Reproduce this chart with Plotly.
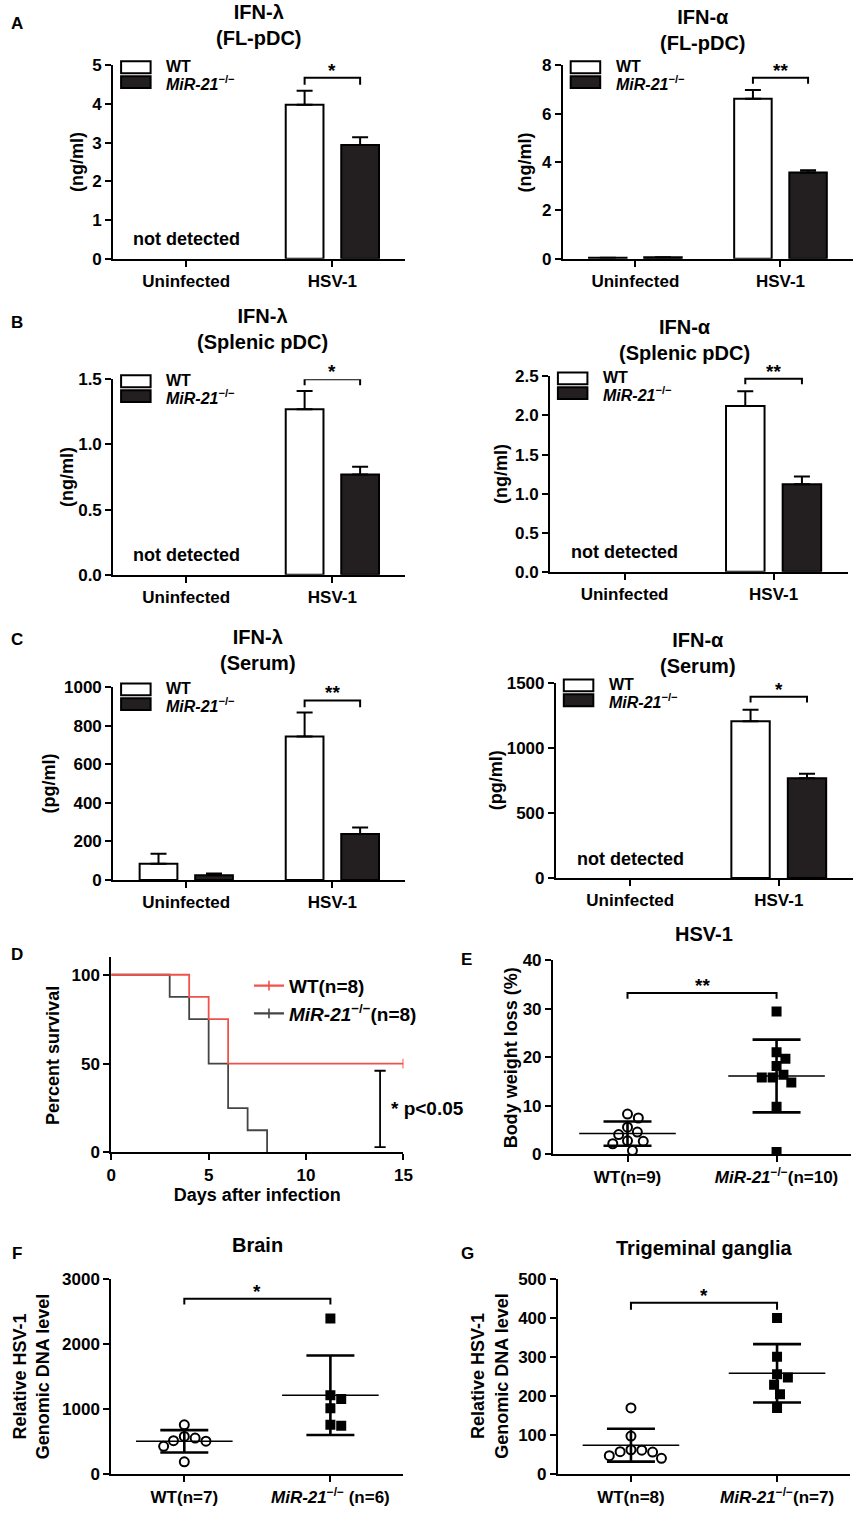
import plotly.graph_objects as go
import numpy as np

W, H = 865, 1516

# ---- data ----
groups = ["Uninfected", "HSV-1"]

# A: FL-pDC (ng/ml), None = not detected
a_lam_wt = [None, 3.98]
a_lam_wt_err = [0, 0.36]
a_lam_ko = [None, 2.94]
a_lam_ko_err = [0, 0.20]
a_alp_wt = [0.04, 6.62]
a_alp_wt_err = [0, 0.36]
a_alp_ko = [0.07, 3.57]
a_alp_ko_err = [0, 0.09]

# B: splenic pDC (ng/ml)
b_lam_wt = [None, 1.27]
b_lam_wt_err = [0, 0.14]
b_lam_ko = [None, 0.77]
b_lam_ko_err = [0, 0.06]
b_alp_wt = [None, 2.12]
b_alp_wt_err = [0, 0.19]
b_alp_ko = [None, 1.12]
b_alp_ko_err = [0, 0.10]

# C: serum (pg/ml)
c_lam_wt = [84, 745]
c_lam_wt_err = [52, 124]
c_lam_ko = [25, 238]
c_lam_ko_err = [8, 35]
c_alp_wt = [None, 1209]
c_alp_wt_err = [0, 88]
c_alp_ko = [None, 768]
c_alp_ko_err = [0, 36]

# D: survival, days of death / censoring
wt_death_days = [4, 5, 6, 6]
wt_censor_days = [15, 15, 15, 15]
ko_death_days = [3, 4, 5, 5, 6, 6, 7, 8]
ko_censor_days = []

# E: body weight loss (%)
e_wt = [8.3, 7.5, 5.6, 4.6, 4.1, 2.7, 2.8, 2.2, 0.8]
e_ko = [29.4, 21.0, 19.7, 18.2, 15.8, 15.8, 16.4, 14.8, 9.8, 0.5]
# F: brain, relative HSV-1 DNA
f_wt = [760, 583, 557, 517, 510, 431, 193]
f_ko = [2392, 1216, 1156, 1014, 745, 760]
# G: trigeminal ganglia
g_wt = [170, 98, 63, 57, 41, 48, 58, 62]
g_ko = [400, 301, 256, 248, 229, 205, 170]

ko_txt = "<i>MiR-21</i><sup>−/−</sup>"
e_labels = ["WT(n=9)", ko_txt + "(n=10)"]
f_labels = ["WT(n=7)", ko_txt + " (n=6)"]
g_labels = ["WT(n=8)", ko_txt + "(n=7)"]

# ---- layout boxes in pixels: left, right, top, bottom ----
box = {
    "A1": (110, 407, 57, 253), "A2": (567, 862, 57, 253),
    "B1": (110, 407, 375, 573), "B2": (554, 857, 372, 570),
    "C1": (110, 407, 687, 882), "C2": (560, 862, 683, 880),
    "D": (108, 405, 960, 1158), "E": (557, 860, 963, 1160),
    "F": (108, 405, 1286, 1484), "G": (562, 859, 1286, 1484),
}
# title centre x and gap above plot top
title_pos = {"A1": (258, 14), "A2": (709, 9), "B1": (262, 25), "B2": (691, 10),
             "C1": (257, 12), "C2": (704, 5), "E": (711, 13), "F": (257, 21), "G": (710, 18)}
names = ["A1", "A2", "B1", "B2", "C1", "C2", "D", "E", "F", "G"]
ax = {n: ("" if i == 0 else str(i + 1)) for i, n in enumerate(names)}

BARGAP = 0.24
GROUPGAP = 0.32
off = (1 - BARGAP) / 4  # centre of each bar from the group tick
FONT = "Liberation Sans, Arial, sans-serif"
TXT = 18

fig = go.Figure()
ann = []
shapes = []


def px_x(x):
    return x / W


def px_y(y):
    return 1 - y / H


def note(x, y, text, size=TXT, xref="paper", yref="paper", **kw):
    d = dict(x=x, y=y, xref=xref, yref=yref, text=text, showarrow=False,
             xanchor="center", yanchor="middle", font=dict(size=size))
    d.update(kw)
    ann.append(d)


axis_style = dict(showline=True, linecolor="black", linewidth=2, ticks="outside", ticklen=6,
                  tickwidth=2, tickcolor="black", showgrid=False, zeroline=False,
                  tickfont=dict(size=17, color="black"))


def bracket(p, x0, x1, ytop, drop, label):
    s = ax[p]
    fig.add_trace(go.Scatter(x=[x0, x0, x1, x1], y=[ytop - drop, ytop, ytop, ytop - drop],
                             mode="lines", line=dict(color="black", width=2),
                             xaxis="x" + s, yaxis="y" + s, showlegend=False, hoverinfo="skip"))
    note((x0 + x1) / 2, ytop, label, size=19, xref="x" + s, yref="y" + s,
         yanchor="bottom", yshift=-5)


def add_title(p, text):
    l, r, t, b = box[p]
    cx, gap = title_pos[p]
    note(px_x(cx), px_y(t - gap), text, size=20, yanchor="bottom")


def bar_panel(p, wt, wt_err, ko, ko_err, ymax, dtick, title, sig, notdet):
    s = ax[p]
    x = [0, 1]
    fig.add_trace(go.Bar(x=x, y=wt, name="WT", marker=dict(color="white", line=dict(color="black", width=2)),
                         error_y=dict(type="data", array=wt_err, arrayminus=[0, 0], symmetric=False,
                                      width=8, thickness=2, color="black"),
                         xaxis="x" + s, yaxis="y" + s, showlegend=False))
    fig.add_trace(go.Bar(x=x, y=ko, name="KO", marker=dict(color="#231f20", line=dict(color="black", width=2)),
                         error_y=dict(type="data", array=ko_err, arrayminus=[0, 0], symmetric=False,
                                      width=8, thickness=2, color="black"),
                         xaxis="x" + s, yaxis="y" + s, showlegend=False))
    ytop, drop, label = sig
    bracket(p, 1 - off, 1 + off, ytop, drop, label)
    if notdet:
        note(0, ymax * 0.1, "not detected", xref="x" + s, yref="y" + s)
    l, r, t, b = box[p]
    fig.layout["xaxis" + s] = dict(domain=[px_x(l), px_x(r)], range=[-0.5, 1.5], tickvals=[0, 1],
                                   ticktext=groups, anchor="y" + s, **axis_style)
    fig.layout["yaxis" + s] = dict(domain=[px_y(b), px_y(t)], range=[0, ymax], dtick=dtick,
                                   anchor="x" + s, **axis_style)
    # legend drawn by hand: wide boxes + labels
    for k, (fill, txt) in enumerate([("white", "WT"), ("#231f20", ko_txt)]):
        y0 = t - 4 + k * 15
        shapes.append(dict(type="rect", xref="paper", yref="paper",
                           x0=px_x(l + 8), x1=px_x(l + 38), y0=px_y(y0 + 12), y1=px_y(y0),
                           fillcolor=fill, line=dict(color="black", width=2)))
        note(px_x(l + 52), px_y(y0 + 5 + 2 * k), txt, size=16, xanchor="left")
    add_title(p, title)


bar_panel("A1", a_lam_wt, a_lam_wt_err, a_lam_ko, a_lam_ko_err, 5, 1,
          "IFN-λ<br>(FL-pDC)", (4.68, 0.18, "*"), True)
bar_panel("A2", a_alp_wt, a_alp_wt_err, a_alp_ko, a_alp_ko_err, 8, 2,
          "IFN-α<br>(FL-pDC)", (7.49, 0.25, "**"), False)
bar_panel("B1", b_lam_wt, b_lam_wt_err, b_lam_ko, b_lam_ko_err, 1.5, 0.5,
          "IFN-λ<br>(Splenic pDC)", (1.5, 0.045, "*"), True)
bar_panel("B2", b_alp_wt, b_alp_wt_err, b_alp_ko, b_alp_ko_err, 2.5, 0.5,
          "IFN-α<br>(Splenic pDC)", (2.47, 0.07, "**"), True)
bar_panel("C1", c_lam_wt, c_lam_wt_err, c_lam_ko, c_lam_ko_err, 1000, 200,
          "IFN-λ<br>(Serum)", (932, 35, "**"), False)
bar_panel("C2", c_alp_wt, c_alp_wt_err, c_alp_ko, c_alp_ko_err, 1500, 500,
          "IFN-α<br>(Serum)", (1398, 45, "*"), True)

fig.layout["yaxis" + ax["B1"]].tickformat = ".1f"
fig.layout["yaxis" + ax["B2"]].tickformat = ".1f"

# ---- D: Kaplan-Meier ----


def km(deaths, censored):
    n = len(deaths) + len(censored)
    at_risk, surv = n, 100.0
    xs, ys = [0], [100.0]
    for t in sorted(set(deaths)):
        d = deaths.count(t)
        surv *= 1 - d / at_risk
        at_risk -= d
        xs.append(t)
        ys.append(surv)
    if censored:
        xs.append(max(censored))
        ys.append(surv)
    return xs, ys


s = ax["D"]
kx, ky = km(ko_death_days, ko_censor_days)
wx, wy = km(wt_death_days, wt_censor_days)
KO_COL, WT_COL = "#454545", "#f0524a"
fig.add_trace(go.Scatter(x=kx, y=ky, mode="lines", line=dict(color=KO_COL, width=1.8, shape="hv"),
                         xaxis="x" + s, yaxis="y" + s, showlegend=False))
fig.add_trace(go.Scatter(x=wx, y=wy, mode="lines", line=dict(color=WT_COL, width=1.8, shape="hv"),
                         xaxis="x" + s, yaxis="y" + s, showlegend=False))
fig.add_trace(go.Scatter(x=[max(wt_censor_days)], y=[wy[-1]], mode="markers",
                         marker=dict(symbol="line-ns-open", size=7, color=WT_COL,
                                     line=dict(color=WT_COL, width=1.8)),
                         xaxis="x" + s, yaxis="y" + s, showlegend=False))
for col, nm in [(WT_COL, "WT(n=8)"), (KO_COL, ko_txt + "(n=8)")]:
    fig.add_trace(go.Scatter(x=[None], y=[None], mode="lines+markers", name=nm,
                             line=dict(color=col, width=2.2),
                             marker=dict(symbol="line-ns-open", size=7, color=col,
                                         line=dict(color=col, width=1.6)),
                             xaxis="x" + s, yaxis="y" + s))
# p-value bar with caps
fig.add_trace(go.Scatter(x=[13.8, 13.8], y=[3, 46], mode="lines+markers",
                         line=dict(color="black", width=1.8),
                         marker=dict(symbol="line-ew-open", size=8, color="black",
                                     line=dict(color="black", width=1.8)),
                         xaxis="x" + s, yaxis="y" + s, showlegend=False, hoverinfo="skip"))
note(14.25, 25, "* p<0.05", size=19, xref="x" + s, yref="y" + s, xanchor="left")
l, r, t, b = box["D"]
fig.layout["xaxis" + s] = dict(domain=[px_x(l), px_x(r)], range=[0, 15], dtick=5, anchor="y" + s,
                               title=dict(text="Days after infection", font=dict(size=18), standoff=0),
                               **axis_style)
fig.layout["yaxis" + s] = dict(domain=[px_y(b), px_y(t)], range=[0, 110], tickvals=[0, 50, 100],
                               anchor="x" + s, **axis_style)

# ---- E, F, G: scatter dot plots with mean +/- SD ----


def swarm(vals, ppu_y, ppu_x, d=11):
    placed = []
    offs = [0.0] * len(vals)
    cands = [0] + [c for k in range(1, 40) for c in (k, -k)]
    for i in sorted(range(len(vals)), key=lambda j: -vals[j]):
        y = vals[i] * ppu_y
        for c in cands:
            if all((c - px) ** 2 + (y - py) ** 2 >= d * d for px, py in placed):
                placed.append((c, y))
                offs[i] = c / ppu_x
                break
    return offs


def dot_panel(p, wt, ko, ymax, dtick, labels, title, sig):
    s = ax[p]
    l, r, t, b = box[p]
    ppu_y = (b - t) / ymax
    ppu_x = (r - l) / 2.0
    for gi, (vals, sym, sz) in enumerate([(wt, "circle-open", 9), (ko, "square", 8)]):
        xo = swarm(vals, ppu_y, ppu_x)
        fig.add_trace(go.Scatter(x=[gi + o for o in xo], y=vals, mode="markers",
                                 marker=dict(symbol=sym, size=sz, color="black",
                                             line=dict(color="black", width=2)),
                                 xaxis="x" + s, yaxis="y" + s, showlegend=False))
        m, sd = float(np.mean(vals)), float(np.std(vals, ddof=1))
        fig.add_trace(go.Scatter(x=[gi], y=[m], mode="markers",
                                 marker=dict(symbol="line-ew", size=69, color="black",
                                             line=dict(color="black", width=1.5)),
                                 error_y=dict(type="data", array=[sd], width=24, thickness=2.6, color="black"),
                                 xaxis="x" + s, yaxis="y" + s, showlegend=False))
    ytop, drop, label = sig
    bracket(p, 0, 1, ytop, drop, label)
    fig.layout["xaxis" + s] = dict(domain=[px_x(l), px_x(r)], range=[-0.5, 1.5], tickvals=[0, 1],
                                   ticktext=labels, anchor="y" + s, **axis_style)
    fig.layout["yaxis" + s] = dict(domain=[px_y(b), px_y(t)], range=[0, ymax], dtick=dtick,
                                   anchor="x" + s, **axis_style)
    add_title(p, title)


dot_panel("E", e_wt, e_ko, 40, 10, e_labels, "HSV-1", (33.2, 1.2, "**"))
dot_panel("F", f_wt, f_ko, 3000, 1000, f_labels, "Brain", (2696, 90, "*"))
dot_panel("G", g_wt, g_ko, 500, 100, g_labels, "Trigeminal ganglia", (439, 18, "*"))

# ---- y-axis titles, panel letters ----
ytitles = [
    ("(ng/ml)", 73, 155), ("(ng/ml)", 529, 155), ("(ng/ml)", 63, 474), ("(ng/ml)", 504, 471),
    ("(pg/ml)", 45, 784), ("(pg/ml)", 499, 781), ("Percent survival", 48, 1060),
    ("Body weight loss (%)", 514, 1062), ("Relative HSV-1<br>Genomic DNA level", 27, 1385),
    ("Relative HSV-1<br>Genomic DNA level", 493, 1385),
]
for txt, x, y in ytitles:
    note(px_x(x), px_y(y), txt, size=18, textangle=-90)

letters = [("A", 12, 15), ("B", 12, 317), ("C", 12, 638), ("D", 12, 957),
           ("E", 469, 963), ("F", 12, 1260), ("G", 470, 1260)]
for txt, x, y in letters:
    note(px_x(x), px_y(y), txt, size=17)

fig.update_layout(
    width=W, height=H, margin=dict(l=0, r=0, t=0, b=0),
    paper_bgcolor="white", plot_bgcolor="white",
    font=dict(family=FONT, color="black", size=TXT, weight="bold"),
    barmode="group", bargap=BARGAP, bargroupgap=GROUPGAP,
    annotations=ann, shapes=shapes,
    legend=dict(x=px_x(248), y=px_y(970), xanchor="left", yanchor="top", bgcolor="rgba(0,0,0,0)",
                font=dict(size=19), itemwidth=30, tracegroupgap=0),
)

fig.write_html("out.html", config={"displayModeBar": False},
               post_script="document.body.style.margin='0';")
